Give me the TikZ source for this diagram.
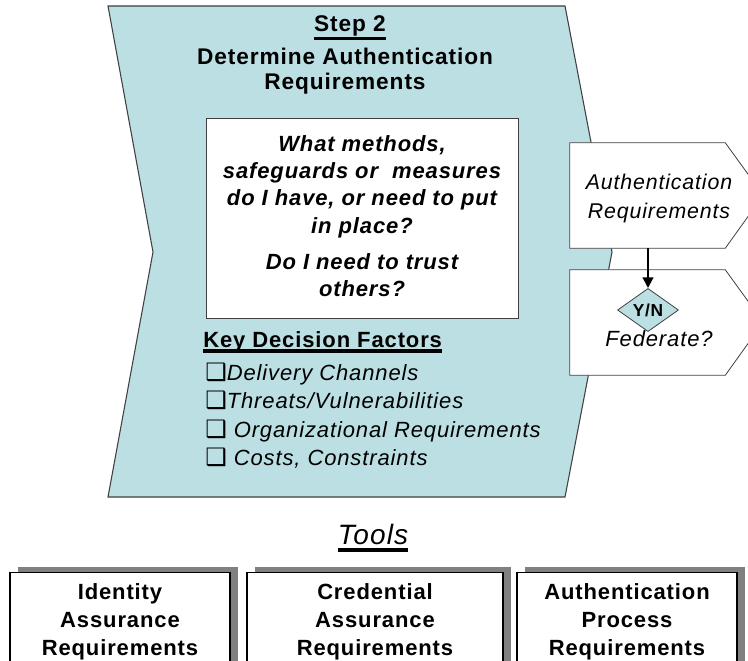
\documentclass[tikz,border=0pt]{standalone}
\usepackage{fontspec}
\setmainfont{Liberation Sans}[LetterSpace=4.0]
\newfontfamily\symfont{DejaVu Sans}
\usetikzlibrary{arrows.meta,shapes.geometric,shadows}

\definecolor{stepblue}{RGB}{187,223,227}
\definecolor{edgegray}{RGB}{64,64,64}
\definecolor{shadowgray}{RGB}{128,128,128}

% heavy underline: #1 depth below baseline, #2 thickness
\newcommand\heavyul[3]{\setbox0=\hbox{#3}\rlap{\rule[-#1]{\wd0}{#2}}\box0}
\newcommand\chk{{\symfont\fontsize{18}{14}\selectfont ❑}}

\tikzset{
  stepshape/.style={draw=edgegray, line width=0.8pt, fill=stepblue},
  outbox/.style={draw=none, minimum width=155*0.75pt, minimum height=105*0.75pt, inner sep=0pt},
  outline/.style={draw=edgegray, line width=0.6pt, fill=white},
  bodytext/.style={font=\fontsize{16.5}{20.5}\selectfont\bfseries\itshape, align=center, inner sep=0pt},
  toolbox/.style={draw=black, fill=white, line width=0.8pt, minimum height=120*0.75pt,
    inner sep=0pt, anchor=north,
    drop shadow={shadow xshift=6pt, shadow yshift=4.5pt, fill=shadowgray, opacity=1}},
  tooltext/.style={font=\fontsize{16.5}{21}\selectfont\bfseries, align=center, inner sep=0pt},
}

\begin{document}
\begin{tikzpicture}[x=0.75pt,y=-0.75pt]
\useasboundingbox (0,0) rectangle (748,660);

% step chevron
\draw[stepshape] (108,6) -- (565,6) -- (612,252) -- (565,497) -- (108,497) -- (153,252) -- cycle;

% heading
\node[font=\fontsize{17}{19}\selectfont\bfseries, inner sep=0pt] (step) at (350,28)
  {\heavyul{6pt}{2.4pt}{Step 2}};
\node[font=\fontsize{17}{18.75}\selectfont\bfseries, align=center, inner sep=0pt] (title) at (345,71)
  {Determine Authentication\\Requirements};

% question box
\node[draw=edgegray, line width=0.6pt, fill=white, minimum width=312*0.75pt,
  minimum height=200*0.75pt, inner sep=0pt] (qbox) at (362,218) {};
\node[bodytext] (qtext) at (362,216)
  {What methods,\\safeguards or \ measures\\do I have, or need to put\\in place?\\[6.5pt]
   Do I need to trust\\others?};

% decision factors
\node[font=\fontsize{16.5}{19}\selectfont\bfseries, anchor=west, inner sep=0pt] (kdf) at (203,342)
  {\heavyul{3.8pt}{3pt}{Key Decision Factors}};
\node[font=\fontsize{16.5}{21.4}\selectfont\itshape, align=left, anchor=west, inner sep=0pt] (factors) at (205,415.5)
  {\chk Delivery Channels\\
   \chk Threats/Vulnerabilities\\
   \chk{} Organizational Requirements\\
   \chk{} Costs, Constraints};

% outputs
\node[outbox] (authbox) at (647.5,195.5) {};
\draw[outline] (authbox.north west) -- (authbox.north east) -- ++(38,52.5)
  -- (authbox.south east) -- (authbox.south west) -- cycle;
\node[font=\fontsize{16}{21.75}\selectfont\itshape, align=center, inner sep=0pt] (authtxt) at (659,198)
  {Authentication\\Requirements};

\node[outbox] (fedbox) at (647.5,322.5) {};
\draw[outline] (fedbox.north west) -- (fedbox.north east) -- ++(38,52.5)
  -- (fedbox.south east) -- (fedbox.south west) -- cycle;
\node[diamond, draw=edgegray, line width=0.6pt, fill=stepblue, minimum width=61*0.75pt,
  minimum height=43*0.75pt, inner sep=0pt, font=\fontsize{13}{13}\selectfont\bfseries] (yn) at (648,310) {Y/N};
\node[font=\fontsize{16.5}{19}\selectfont\itshape, inner sep=0pt] (fedtxt) at (659,339) {Federate?};

\draw[line width=1.5pt, -{Triangle[length=8pt,width=8pt]}] (yn.north |- authbox.south) -- (yn.north);

% tools
\node[font=\fontsize{21}{24}\selectfont\itshape, inner sep=0pt] (tools) at (373,538)
  {\heavyul{5.3pt}{2.6pt}{Tools}};

\node[toolbox, minimum width=220*0.75pt] (idbox) at (120,572) {};
\node[tooltext] (idtxt) at (120,622) {Identity\\Assurance\\Requirements};

\node[toolbox, minimum width=256*0.75pt] (credbox) at (375,572) {};
\node[tooltext] (credtxt) at (375,622) {Credential\\Assurance\\Requirements};

\node[toolbox, minimum width=220*0.75pt] (procbox) at (627,572) {};
\node[tooltext] (proctxt) at (627,622) {Authentication\\Process\\Requirements};
\end{tikzpicture}
\end{document}
